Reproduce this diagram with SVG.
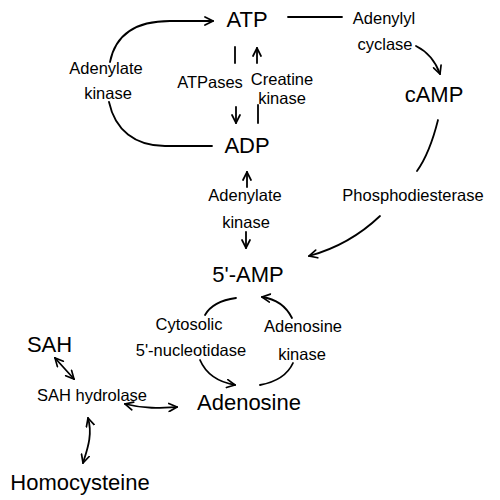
<svg xmlns="http://www.w3.org/2000/svg" width="500" height="500" viewBox="0 0 500 500">
<style>
text{font-family:"Liberation Sans",Arial,sans-serif;fill:#000;text-anchor:middle}
.n{font-size:22px}
.l{font-size:16.5px}
.c{fill:none;stroke:#000;stroke-width:1.8;stroke-linecap:round}
.e{marker-end:url(#a)}
.b{marker-start:url(#a);marker-end:url(#a)}
</style>
<defs>
<marker id="a" viewBox="0 0 10 10" refX="9" refY="5" markerWidth="10" markerHeight="10" markerUnits="userSpaceOnUse" orient="auto-start-reverse">
<path d="M1,1 L9,5 L1,9" fill="none" stroke="#000" stroke-width="1.7" stroke-linecap="round" stroke-linejoin="miter"/>
</marker>
</defs>
<rect width="500" height="500" fill="#fff"/>
<g id="connectors">
<path class="c e" d="M110,62 C116,32 140,21 170,21 L213,21"/>
<path class="c" d="M109,102 C115,130 135,146 165,146 L212,146"/>
<path class="c" d="M235,47 L235,63"/>
<path class="c e" d="M236,107 L236,123"/>
<path class="c e" d="M257,63 L257,48"/>
<path class="c" d="M258,105 L258,123"/>
<path class="c" d="M288,17 L342,17"/>
<path class="c e" d="M416,46 C426,51 435,60 440,74"/>
<path class="c" d="M438,120 C433,140 427,157 417,171"/>
<path class="c e" d="M380,216 C360,235 335,249 309,256"/>
<path class="c e" d="M247,187 L247,172"/>
<path class="c e" d="M246,232 L246,248"/>
<path class="c" d="M236,298 C222,300 210,306 205,315"/>
<path class="c e" d="M200,360 C206,374 218,382 235,385"/>
<path class="c e" d="M292,318 C286,306 276,299 262,297"/>
<path class="c" d="M260,385 C276,382 288,374 293,363"/>
<path class="c b" d="M55,358 L74,379"/>
<path class="c b" d="M125,404 C145,409 160,408 177,407"/>
<path class="c b" d="M88,418 C93,435 87,450 83,463"/>
</g>
<g id="ATP"><text class="n" x="247" y="27">ATP</text></g>
<g id="ADP"><text class="n" x="247" y="153">ADP</text></g>
<g id="cAMP"><text class="n" x="434" y="102">cAMP</text></g>
<g id="AMP"><text class="n" x="248" y="282">5'-AMP</text></g>
<g id="Adenosine"><text class="n" x="249" y="410">Adenosine</text></g>
<g id="SAH"><text class="n" x="49.5" y="352">SAH</text></g>
<g id="Homocysteine"><text class="n" x="80" y="490">Homocysteine</text></g>
<g id="adenylate-kinase-1"><text class="l" x="106" y="74">Adenylate</text><text class="l" x="108" y="99">kinase</text></g>
<g id="atpases"><text class="l" x="210" y="88">ATPases</text></g>
<g id="creatine-kinase"><text class="l" x="282" y="85">Creatine</text><text class="l" x="282" y="104">kinase</text></g>
<g id="adenylyl-cyclase"><text class="l" x="384" y="24">Adenylyl</text><text class="l" x="385" y="50">cyclase</text></g>
<g id="phosphodiesterase"><text class="l" x="413" y="201">Phosphodiesterase</text></g>
<g id="adenylate-kinase-2"><text class="l" x="245" y="201">Adenylate</text><text class="l" x="246" y="228">kinase</text></g>
<g id="nucleotidase"><text class="l" x="189" y="330">Cytosolic</text><text class="l" x="191" y="356">5'-nucleotidase</text></g>
<g id="adenosine-kinase"><text class="l" x="303" y="332">Adenosine</text><text class="l" x="302" y="360">kinase</text></g>
<g id="sah-hydrolase"><text class="l" x="92" y="401">SAH hydrolase</text></g>
</svg>
